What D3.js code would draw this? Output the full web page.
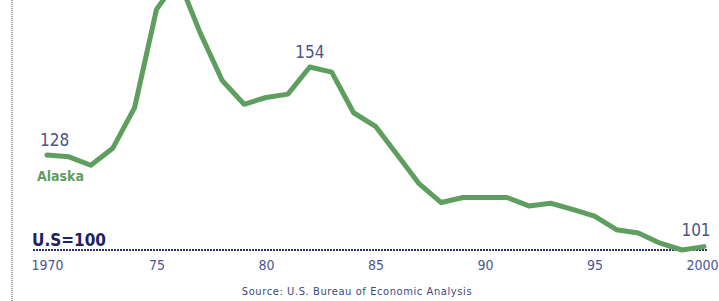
<!DOCTYPE html>
<html><head><meta charset="utf-8">
<script src="https://cdn.jsdelivr.net/npm/d3@7"></script>
<style>body{margin:0;background:#fff}svg{display:block}</style>
</head><body>
<script>
const years = d3.range(1970, 2001);
const alaska = [128, 127.5, 125, 130, 142, 171, 180, 164, 150, 143, 145, 146, 154, 152.5, 140.5, 136.5, 128, 119.5, 114, 115.5, 115.5, 115.5, 113, 113.8, 112, 110, 106, 105, 102, 100, 101];
const tickYears = [1970, 1975, 1980, 1985, 1990, 1995, 2000];
const tickLabels = ["1970", "75", "80", "85", "90", "95", "2000"];
const annotations = [{year: 1970, value: 128, text: "128"}, {year: 1982, value: 154, text: "154"}, {year: 2000, value: 101, text: "101"}];

const W = 719, H = 301;
const svg = d3.select("body").append("svg").attr("width", W).attr("height", H);
const x = d3.scaleLinear().domain([1970, 2000]).range([47, 704]);
const y = d3.scaleLinear().domain([100, 154]).range([250, 67]);
const cond = "'DejaVu Sans Condensed','Liberation Sans Narrow','DejaVu Sans',sans-serif";

// left dotted rule
svg.append("line").attr("x1", 12).attr("x2", 12).attr("y1", 0).attr("y2", H)
  .attr("stroke", "#9aa8b0").attr("stroke-width", 2).attr("stroke-dasharray", "1,1");

// baseline U.S = 100
svg.append("line").attr("x1", 33).attr("x2", 707).attr("y1", y(100)).attr("y2", y(100))
  .attr("stroke", "#2a2f6e").attr("stroke-width", 2).attr("stroke-dasharray", "2,1");

// axis tick labels
const axis = d3.axisBottom(x).tickValues(tickYears).tickFormat((d, i) => tickLabels[i]).tickSize(0).tickPadding(0);
const ag = svg.append("g").attr("transform", `translate(0,${y(100) + 10})`).call(axis);
ag.select(".domain").remove();
ag.selectAll("text").attr("font-family", cond).attr("font-size", 14).attr("fill", "#4a5890");
// keep the last label inside the window
ag.selectAll(".tick").filter(d => d === 2000).select("text")
  .attr("text-anchor", "end").attr("x", W - 1 - x(2000));

// line
const line = d3.line().x((d, i) => x(years[i])).y(d => y(d));
svg.append("path").datum(alaska).attr("d", line).attr("fill", "none")
  .attr("stroke", "#5e9e5e").attr("stroke-width", 5).attr("stroke-linejoin", "round").attr("stroke-linecap", "round");

// annotations
svg.selectAll(".ann").data(annotations).enter().append("text")
  .attr("x", d => d.year === 1970 ? x(d.year) - 7 : (d.year === 2000 ? x(d.year) - 8 : x(d.year)))
  .attr("y", d => d.year === 2000 ? y(d.value) - 11 : y(d.value) - 9)
  .attr("text-anchor", d => d.year === 1970 ? "start" : "middle")
  .attr("font-family", cond).attr("font-size", 17).attr("fill", "#4a5585")
  .text(d => d.text);

svg.append("text").attr("x", 37).attr("y", 181).attr("font-family", cond)
  .attr("font-weight", "bold").attr("font-size", 14).attr("fill", "#5e9e5e").text("Alaska");

svg.append("text").attr("x", 32).attr("y", 246).attr("font-family", cond)
  .attr("font-weight", "bold").attr("font-size", 17).attr("fill", "#1e2260").text("U.S=100");

svg.append("text").attr("x", 357).attr("y", 295).attr("text-anchor", "middle").attr("font-family", cond)
  .attr("font-size", 11).attr("letter-spacing", 0.6).attr("fill", "#3a4a80").text("Source: U.S. Bureau of Economic Analysis");
</script>
</body></html>
